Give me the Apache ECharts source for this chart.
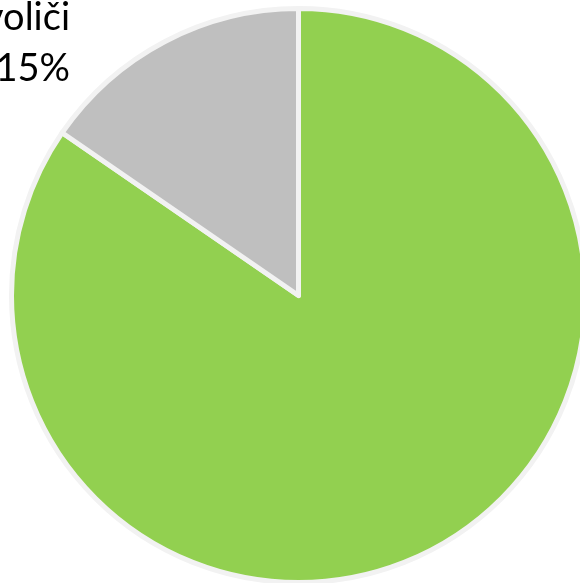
<!DOCTYPE html>
<html><head><meta charset="utf-8">
<script src="https://cdn.jsdelivr.net/npm/echarts@6/dist/echarts.min.js"></script>
<style>html,body{margin:0;padding:0;background:#fff}#c{width:580px;height:583px}</style>
</head><body><div id="c"></div>
<script>
const categories = ['ostatní', 'voliči'];
const values = [84.6, 15.4];
const colors = ['#92D050', '#BFBFBF'];
const showLabel = [false, true];

const chart = echarts.init(document.getElementById('c'), null, {renderer: 'canvas'});
chart.setOption({
  animation: false,
  series: [{
    type: 'pie',
    center: [298.5, 295.5],
    radius: 287,
    startAngle: 90,
    clockwise: true,
    percentPrecision: 0,
    itemStyle: {borderColor: '#F2F2F2', borderWidth: 5},
    label: {
      formatter: '{b}\n{d}%',
      fontFamily: 'Lato, "Open Sans", sans-serif',
      fontSize: 38,
      lineHeight: 51,
      color: '#000'
    },
    labelLine: {show: false},
    labelLayout: function () {
      return {x: 70, y: 43, align: 'right', verticalAlign: 'middle'};
    },
    data: categories.map((n, i) => ({
      name: n, value: values[i],
      itemStyle: {color: colors[i]},
      label: {show: showLabel[i]}
    }))
  }]
});
</script></body></html>
